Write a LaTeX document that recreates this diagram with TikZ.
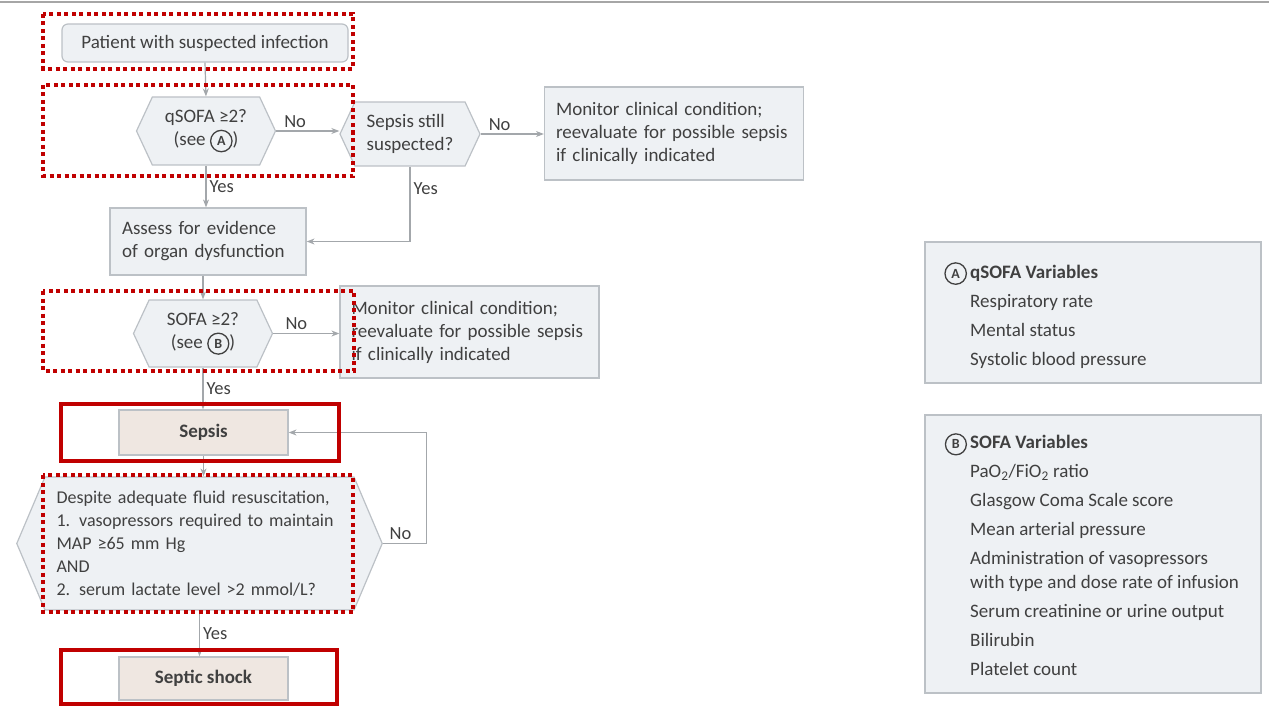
\documentclass[tikz,border=0pt]{standalone}
\usepackage{fontspec}
\setmainfont{Carlito}
\usetikzlibrary{shapes.symbols,arrows.meta}
\definecolor{PanelFill}{HTML}{EEF1F4}
\definecolor{PanelLine}{HTML}{BCC1C6}
\definecolor{ResultFill}{HTML}{EFE7E1}
\definecolor{FlowGray}{HTML}{A3A7AB}
\definecolor{InkGray}{HTML}{404040}
\definecolor{MarkRed}{HTML}{C00000}
\newcommand{\circlet}[1]{\tikz[baseline=(ltr.base)]\node[circle,draw=InkGray,line width=1.3pt,inner sep=3.2pt,minimum size=0pt,text width=,font=\bfseries\fontsize{14}{14}\selectfont](ltr){#1};}

\begin{document}
\begin{tikzpicture}[x=1pt, y=-1pt,
    every node/.style={font=\fontsize{19}{23}\selectfont, text=InkGray},
    panel/.style={draw=PanelLine, fill=PanelFill, line width=1.2pt, inner sep=0pt},
    hexa/.style={panel, signal, signal to=west and east, signal pointer angle=130},
    result/.style={panel, fill=ResultFill, font=\bfseries\fontsize{19}{23}\selectfont},
    flow/.style={draw=FlowGray, line width=1.2pt, -{Stealth[length=8pt,width=6pt]}},
    lbl/.style={font=\fontsize{18.5}{20}\selectfont, inner sep=3pt},
    dotbox/.style={draw=MarkRed, line width=4pt, dash pattern=on 4pt off 3.5pt},
    solidbox/.style={draw=MarkRed, line width=4.5pt}]
    \useasboundingbox (0,0) rectangle (1269,706);
    \draw[gray!70, line width=2pt] (0,2) -- (1269,2);

    % Flow chart
    \node[panel, rounded corners=6pt, minimum width=286pt, minimum height=38pt] (patient) at (205,43) {Patient with suspected infection};
    \node[hexa, minimum width=139pt, minimum height=68pt, align=center] (qsofa) at (206,131) {qSOFA ≥2?\\(see \circlet{A})};
    \node[hexa, minimum width=140pt, minimum height=64pt, align=left] (still) at (410,134) {Sepsis still\\suspected?};
    \node[panel, minimum width=259pt, minimum height=93pt, text width=236pt, align=left] (mon1) at (674,133.5) {Monitor clinical condition;\\reevaluate for possible sepsis\\if clinically indicated};
    \node[panel, minimum width=196pt, minimum height=67pt, text width=172pt, align=left] (assess) at (208,241.5) {Assess for evidence\\of organ dysfunction};
    \node[hexa, minimum width=139pt, minimum height=67pt, align=center] (sofa) at (203,333.5) {SOFA ≥2?\\(see \circlet{B})};
    \node[panel, minimum width=259pt, minimum height=92pt, text width=236pt, align=left] (mon2) at (469.5,332) {Monitor clinical condition;\\reevaluate for possible sepsis\\if clinically indicated};
    \node[result, minimum width=169pt, minimum height=45pt] (sepsis) at (203.5,432.5) {Sepsis};
    \node[hexa, signal pointer angle=134, minimum width=365pt, minimum height=133pt, text width=286pt, inner xsep=11.5pt, align=left, font=\fontsize{18}{23}\selectfont] (crit) at (199.5,543.5) {Despite adequate fluid resuscitation,\\1. vasopressors required to maintain\\MAP ≥65 mm Hg\\AND\\2. serum lactate level >2 mmol/L?};
    \node[result, minimum width=169pt, minimum height=43pt] (shock) at (203.5,678.5) {Septic shock};

    \draw[flow] (patient.south) -- (qsofa.north);
    \draw[flow] (qsofa.east) -- node[lbl, above, pos=0.3] (noA) {No} (qsofa.east -| still.west);
    \draw[flow] (still.east) -- node[lbl, above, pos=0.3] (noB) {No} (still.east -| mon1.west);
    \draw[flow] (qsofa.south) -- node[lbl, right] (yesA) {Yes} (qsofa.south |- assess.north);
    \draw[flow] (still.south) -- node[lbl, right, pos=0.3] (yesB) {Yes} (still.south |- assess.east) -- (assess.east);
    \draw[flow] (assess.south -| sofa.north) -- (sofa.north);
    \draw[flow] (sofa.east) -- node[lbl, above, pos=0.35] (noC) {No} (sofa.east -| mon2.west);
    \draw[flow] (sofa.south) -- node[lbl, right] (yesC) {Yes} (sofa.south |- sepsis.north);
    \draw[flow] (sepsis.south) -- (sepsis.south |- crit.north);
    \draw[flow] (crit.east) -- node[lbl, above, pos=0.4] (noD) {No} ++(44,0) |- (sepsis.east);
    \draw[flow] (crit.south) -- node[lbl, right] (yesD) {Yes} (crit.south |- shock.north);

    % Legend boxes
    \node[panel, minimum width=336pt, minimum height=141pt] (legA) at (1093,312.5) {};
    \node[anchor=north west, align=left, inner sep=0pt, font=\fontsize{19}{29}\selectfont] (legAtext) at (970,262)
        {\llap{\circlet{A}\,}\textbf{qSOFA Variables}\\Respiratory rate\\Mental status\\Systolic blood pressure};
    \node[panel, minimum width=336pt, minimum height=278pt] (legB) at (1093,554) {};
    \node[anchor=north west, align=left, inner sep=0pt, font=\fontsize{19}{29}\selectfont] (legBtext) at (970,433)
        {\llap{\circlet{B}\,}\textbf{SOFA Variables}\\PaO\textsubscript{2}/FiO\textsubscript{2} ratio\\Glasgow Coma Scale score\\Mean arterial pressure\\Administration of vasopressors\\[-5pt]with type and dose rate of infusion\\Serum creatinine or urine output\\Bilirubin\\Platelet count};

    % Highlight marks
    \draw[dotbox] (43,14) rectangle (353,69);
    \draw[dotbox] (43,85) rectangle (353,176);
    \draw[dotbox] (43,291) rectangle (354,371);
    \draw[dotbox] (43,475) rectangle (353,612);
    \draw[solidbox] (61,404) rectangle (339,461);
    \draw[solidbox] (61,650) rectangle (337,704);
\end{tikzpicture}
\end{document}
